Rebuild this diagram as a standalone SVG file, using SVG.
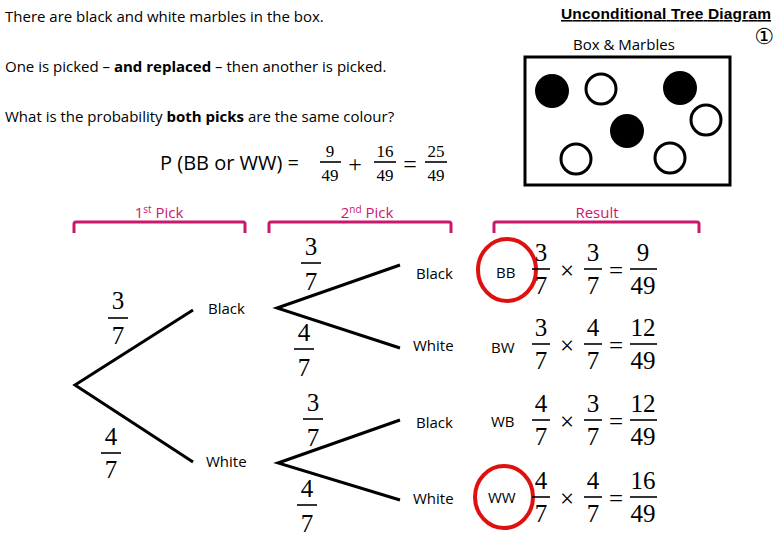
<svg xmlns="http://www.w3.org/2000/svg" width="780" height="540" viewBox="0 0 780 540">
<style>
.t{font-family:"Open Sans","Liberation Sans",sans-serif;font-size:15px;fill:#000}
.p{font-family:"Open Sans","Liberation Sans",sans-serif;font-size:15px;fill:#c8196c}
.f{font-family:"Liberation Serif","DejaVu Serif",serif;font-size:25px;fill:#000;text-anchor:middle}
.fr{stroke:#000;stroke-width:1.6}
.br{fill:none;stroke:#c8196c;stroke-width:3}
.ln{stroke:#000;stroke-width:3;fill:none}
.rc{fill:none;stroke:#e01010;stroke-width:4}
</style>
<rect width="780" height="540" fill="#fff"/>
<g id="header">
<text class="t" x="5" y="22">There are black and white marbles in the box.</text>
<text class="t" x="5" y="72">One is picked – <tspan font-weight="bold">and replaced</tspan> – then another is picked.</text>
<text class="t" x="5" y="122">What is the probability <tspan font-weight="bold">both picks</tspan> are the same colour?</text>
<text x="561" y="19" font-family="Liberation Sans,sans-serif" font-size="15.5" font-weight="bold" text-decoration="underline" textLength="210">Unconditional Tree Diagram</text>
<text x="764" y="44" font-family="DejaVu Sans,sans-serif" font-size="22" text-anchor="middle">①</text>
<text class="t" x="573" y="50">Box &amp; Marbles</text>
</g>
<g id="formula">
<text x="160" y="170" font-family="Open Sans,Liberation Sans,sans-serif" font-size="20">P (BB or WW) =</text>
<text x="330" y="157" font-family="Liberation Serif,serif" font-size="17" text-anchor="middle">9</text>
<line x1="320" y1="162" x2="341" y2="162" class="fr"/>
<text x="330" y="181" font-family="Liberation Serif,serif" font-size="17" text-anchor="middle">49</text>
<text x="355" y="172" font-family="Liberation Serif,serif" font-size="24" text-anchor="middle">+</text>
<text x="385" y="157" font-family="Liberation Serif,serif" font-size="17" text-anchor="middle">16</text>
<line x1="374" y1="162" x2="396" y2="162" class="fr"/>
<text x="385" y="181" font-family="Liberation Serif,serif" font-size="17" text-anchor="middle">49</text>
<text x="410" y="172" font-family="Liberation Serif,serif" font-size="24" text-anchor="middle">=</text>
<text x="436" y="157" font-family="Liberation Serif,serif" font-size="17" text-anchor="middle">25</text>
<line x1="425" y1="162" x2="447" y2="162" class="fr"/>
<text x="436" y="181" font-family="Liberation Serif,serif" font-size="17" text-anchor="middle">49</text>
</g>
<g id="box">
<rect x="525" y="57" width="205" height="128" fill="none" stroke="#000" stroke-width="3"/>
<circle cx="552" cy="91" r="17"/>
<circle cx="601" cy="89" r="15" fill="#fff" stroke="#000" stroke-width="3"/>
<circle cx="680" cy="88" r="17"/>
<circle cx="706" cy="120" r="15" fill="#fff" stroke="#000" stroke-width="3"/>
<circle cx="627" cy="131" r="17"/>
<circle cx="576" cy="159" r="15" fill="#fff" stroke="#000" stroke-width="3"/>
<circle cx="670" cy="158" r="15" fill="#fff" stroke="#000" stroke-width="3"/>
</g>
<g id="brackets">
<path class="br" d="M74 233 V224 Q74 222 76 222 H243 Q245 222 245 224 V233"/>
<path class="br" d="M269 233 V224 Q269 222 271 222 H449 Q451 222 451 224 V233"/>
<path class="br" d="M494 233 V224 Q494 222 496 222 H697 Q699 222 699 224 V233"/>
<text class="p" x="159" y="218" text-anchor="middle">1<tspan font-size="10" dy="-5">st</tspan><tspan dy="5"> Pick</tspan></text>
<text class="p" x="367" y="218" text-anchor="middle">2<tspan font-size="10" dy="-5">nd</tspan><tspan dy="5"> Pick</tspan></text>
<text class="p" x="597" y="218" text-anchor="middle">Result</text>
</g>
<g id="connectors">
<path class="ln" d="M193 310 L75 385 L193 462"/>
<path class="ln" d="M400 265 L277 308 L400 348"/>
<path class="ln" d="M400 420 L278 463 L400 500"/>
</g>
<g id="probs">
<text class="f" x="118" y="309">3</text><line class="fr" x1="108" y1="318" x2="128" y2="318"/><text class="f" x="118" y="344">7</text>
<text class="f" x="111" y="445">4</text><line class="fr" x1="101" y1="453" x2="121" y2="453"/><text class="f" x="111" y="478">7</text>
<text class="f" x="311" y="255">3</text><line class="fr" x1="301" y1="263" x2="321" y2="263"/><text class="f" x="311" y="290">7</text>
<text class="f" x="304" y="341">4</text><line class="fr" x1="294" y1="349" x2="314" y2="349"/><text class="f" x="304" y="376">7</text>
<text class="f" x="313" y="411">3</text><line class="fr" x1="303" y1="419" x2="323" y2="419"/><text class="f" x="313" y="446">7</text>
<text class="f" x="307" y="497">4</text><line class="fr" x1="297" y1="505" x2="317" y2="505"/><text class="f" x="307" y="532">7</text>
</g>
<g id="labels">
<text class="t" x="208" y="314">Black</text>
<text class="t" x="206" y="467">White</text>
<text class="t" x="416" y="279">Black</text>
<text class="t" x="413" y="351">White</text>
<text class="t" x="416" y="428">Black</text>
<text class="t" x="413" y="504">White</text>
</g>
<g id="results">
<text class="t" x="496" y="278">BB</text>
<text class="t" x="491" y="353">BW</text>
<text class="t" x="491" y="427">WB</text>
<text class="t" x="488" y="503">WW</text>
<ellipse class="rc" cx="507" cy="270" rx="29" ry="31"/>
<ellipse class="rc" cx="504" cy="497" rx="29" ry="31"/>
<g id="r1"><text class="f" x="541" y="261">3</text><line class="fr" x1="532" y1="269" x2="550" y2="269"/><text class="f" x="541" y="294">7</text><text class="f" x="567" y="279">×</text><text class="f" x="593" y="261">3</text><line class="fr" x1="584" y1="269" x2="602" y2="269"/><text class="f" x="593" y="294">7</text><text class="f" x="616" y="279">=</text><text class="f" x="643" y="261">9</text><line class="fr" x1="630" y1="269" x2="657" y2="269"/><text class="f" x="643" y="294">49</text></g>
<g id="r2"><text class="f" x="541" y="336">3</text><line class="fr" x1="532" y1="344" x2="550" y2="344"/><text class="f" x="541" y="369">7</text><text class="f" x="567" y="354">×</text><text class="f" x="593" y="336">4</text><line class="fr" x1="584" y1="344" x2="602" y2="344"/><text class="f" x="593" y="369">7</text><text class="f" x="616" y="354">=</text><text class="f" x="643" y="336">12</text><line class="fr" x1="630" y1="344" x2="657" y2="344"/><text class="f" x="643" y="369">49</text></g>
<g id="r3"><text class="f" x="541" y="412">4</text><line class="fr" x1="532" y1="420" x2="550" y2="420"/><text class="f" x="541" y="445">7</text><text class="f" x="567" y="430">×</text><text class="f" x="593" y="412">3</text><line class="fr" x1="584" y1="420" x2="602" y2="420"/><text class="f" x="593" y="445">7</text><text class="f" x="616" y="430">=</text><text class="f" x="643" y="412">12</text><line class="fr" x1="630" y1="420" x2="657" y2="420"/><text class="f" x="643" y="445">49</text></g>
<g id="r4"><text class="f" x="541" y="489">4</text><line class="fr" x1="532" y1="497" x2="550" y2="497"/><text class="f" x="541" y="522">7</text><text class="f" x="567" y="507">×</text><text class="f" x="593" y="489">4</text><line class="fr" x1="584" y1="497" x2="602" y2="497"/><text class="f" x="593" y="522">7</text><text class="f" x="616" y="507">=</text><text class="f" x="643" y="489">16</text><line class="fr" x1="630" y1="497" x2="657" y2="497"/><text class="f" x="643" y="522">49</text></g>
</g>
</svg>
